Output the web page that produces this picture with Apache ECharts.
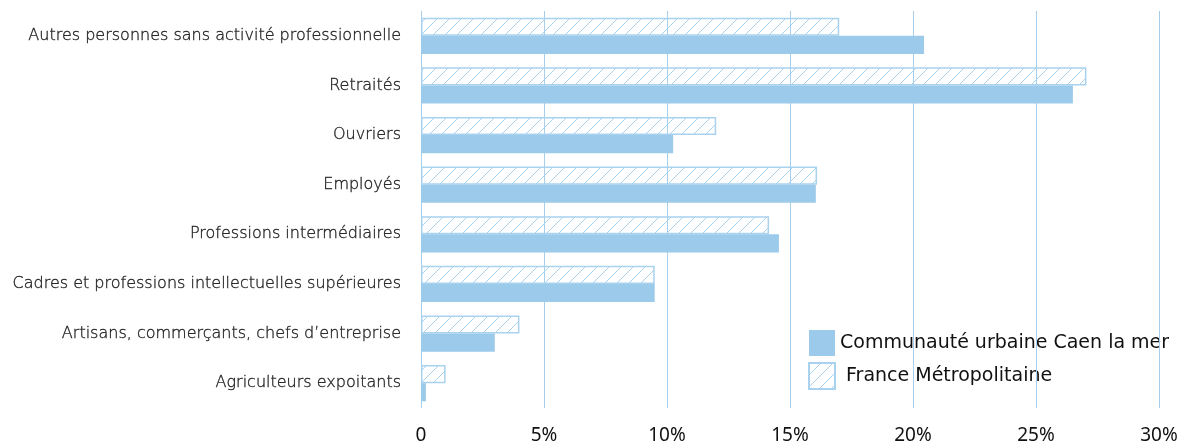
<!DOCTYPE html>
<html><head><meta charset="utf-8">
<script src="https://cdn.jsdelivr.net/npm/echarts@6/dist/echarts.min.js"></script>
<style>html,body{margin:0;padding:0;background:#fff}#c{width:1182px;height:441px}</style>
</head><body><div id="c"></div>
<script>
var categories = ["Agriculteurs expoitants","Artisans, commerçants, chefs d’entreprise","Cadres et professions intellectuelles supérieures","Professions intermédiaires","Employés","Ouvriers","Retraités","Autres personnes sans activité professionnelle"];
var caenValues = [0.2, 3.0, 9.5, 14.55, 16.05, 10.25, 26.5, 20.45];
var franceValues = [1.0, 4.0, 9.5, 14.15, 16.1, 12.0, 27.05, 17.0];
var seriesNames = ["Communauté urbaine Caen la mer", "France Métropolitaine"];
var xTicks = [0, 5, 10, 15, 20, 25, 30];

var blue = '#9ccaea';
var pc = document.createElement('canvas');
pc.width = 12; pc.height = 12;
var ctx = pc.getContext('2d');
ctx.strokeStyle = '#a9d2ef'; ctx.lineWidth = 1;
ctx.beginPath(); ctx.moveTo(-1,13); ctx.lineTo(13,-1); ctx.stroke();

var chart = echarts.init(document.getElementById('c'));
chart.setOption({
  animation: false,
  textStyle: {fontFamily: 'Noto Sans'},
  grid: {left: 421, right: 23, top: 11, bottom: 33, outerBoundsMode: 'none', containLabel: false},
  legend: {
    orient: 'vertical', left: 803, top: 325, itemWidth: 26, itemHeight: 26, itemGap: 6,
    icon: 'rect', z: -1,
    textStyle: {fontSize: 19, color: '#111', fontFamily: 'DejaVu Sans'},
    data: [seriesNames[0], seriesNames[1]],
    formatter: function(n){ return n === seriesNames[1] ? ' ' + n : n; }
  },
  xAxis: {
    type: 'value', min: 0, max: 30, interval: 5,
    axisLine: {show: false}, axisTick: {show: false},
    splitLine: {show: true, lineStyle: {color: '#a6cfee', width: 1}},
    axisLabel: {fontSize: 19, color: '#111', margin: 18,
      formatter: function(v){ return v === 0 ? '0' : v + '%'; }}
  },
  yAxis: {
    type: 'category', data: categories,
    axisLine: {show: false}, axisTick: {show: false},
    axisLabel: {fontSize: 16, color: '#222', margin: 20, fontFamily: 'DejaVu Sans', fontWeight: 300,
      textBorderColor: '#333', textBorderWidth: 0.35}
  },
  series: [
    {name: seriesNames[1], type: 'bar', data: franceValues, barGap: '0%', barCategoryGap: '27%',
     itemStyle: {color: {image: pc, repetition: 'repeat'}, borderColor: '#a9d2ef', borderWidth: 1.5}},
    {name: seriesNames[0], type: 'bar', data: caenValues, barGap: '0%', barCategoryGap: '27%',
     itemStyle: {color: blue}}
  ]
});
</script></body></html>
